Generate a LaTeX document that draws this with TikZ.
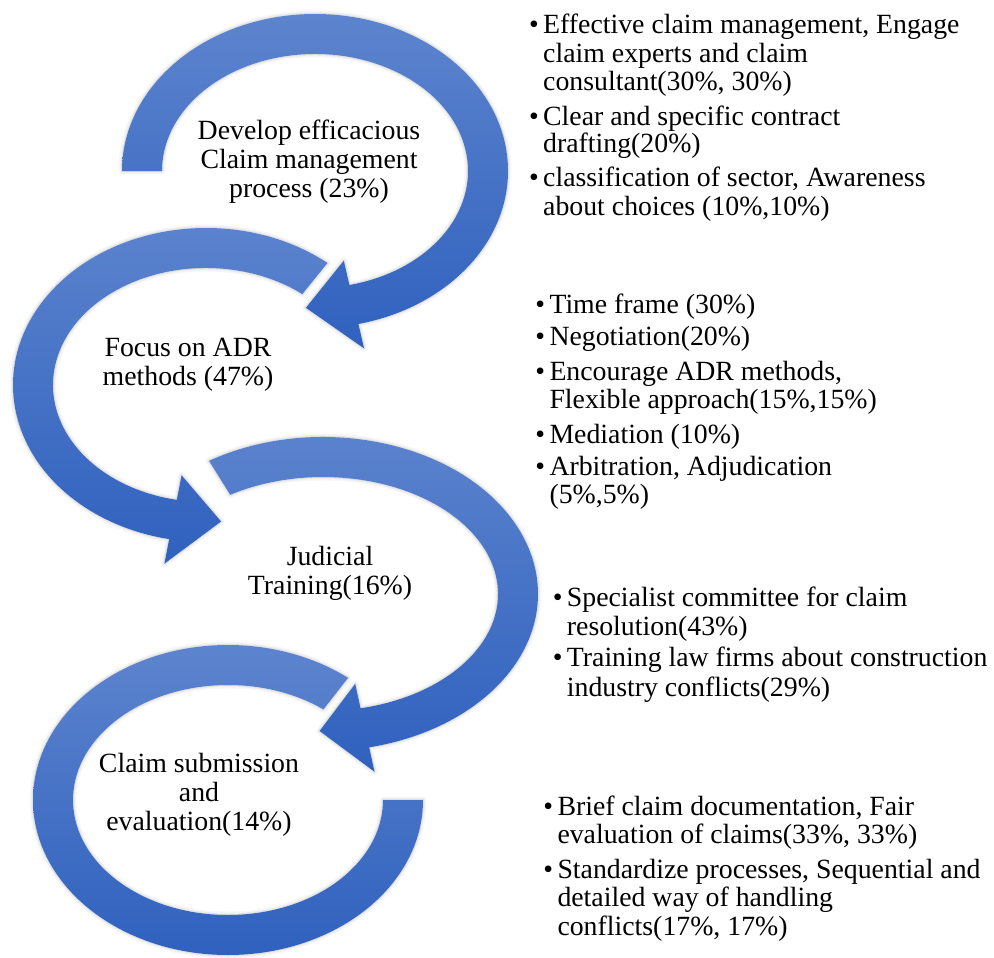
\documentclass[tikz,border=0pt]{standalone}
\usepackage{fontspec}
\setmainfont{Liberation Serif}
\definecolor{armtop}{HTML}{5D84CE}
\definecolor{armbot}{HTML}{2F61BE}
\newcommand\lbfont{\fontsize{27.8}{28.5}\selectfont}
% band width of every curved arrow and overhang of the arrow-head wings
\newcommand\bandw{40}
\newcommand\wingw{25}
% curved arrow on an ellipse: centre (#1,#2), outer radii #3,#4,
% tail at angle #5, head base at #6, head tip at #7 (angles grow clockwise)
\newcommand\headarrow[7]{%
  \path[armbody]
    ({#1+#3*cos(#5)},{#2+#4*sin(#5)})
    arc[start angle=#5, end angle=#6, x radius=#3, y radius=#4]
    -- ({#1+(#3+\wingw)*cos(#6)},{#2+(#4+\wingw)*sin(#6)})
    -- ({#1+(#3-\bandw/2)*cos(#7)},{#2+(#4-\bandw/2)*sin(#7)})
    -- ({#1+(#3-\bandw-\wingw)*cos(#6)},{#2+(#4-\bandw-\wingw)*sin(#6)})
    -- ({#1+(#3-\bandw)*cos(#6)},{#2+(#4-\bandw)*sin(#6)})
    arc[start angle=#6, end angle=#5, x radius=#3-\bandw, y radius=#4-\bandw]
    -- cycle;}
% open ring band without a head, from angle #5 to #6
\newcommand\ringband[6]{%
  \path[armbody]
    ({#1+#3*cos(#5)},{#2+#4*sin(#5)})
    arc[start angle=#5, end angle=#6, x radius=#3, y radius=#4]
    -- ({#1+(#3-\bandw)*cos(#6)},{#2+(#4-\bandw)*sin(#6)})
    arc[start angle=#6, end angle=#5, x radius=#3-\bandw, y radius=#4-\bandw]
    -- cycle;}
\tikzset{
  armbody/.style={
    preaction={draw=black, line width=7pt, opacity=0.03, line join=round},
    preaction={draw=black, line width=4pt, opacity=0.04, line join=round},
    preaction={draw=black, line width=2pt, opacity=0.05, line join=round},
    top color=armtop, bottom color=armbot},
  txt/.style={font=\lbfont, inner sep=0pt, text=black},
  lineL/.style={txt, anchor=base west},
  lineC/.style={txt, anchor=base},
  bul/.style={txt, anchor=base east}
}
\begin{document}
\begin{tikzpicture}[x=1pt, y=-1pt]
\useasboundingbox (0,0) rectangle (994,958);

% the four curved arrows
\headarrow{315}{171}{193}{157}{180}{437}{453}
\headarrow{206}{385}{193}{157}{-51}{-259}{-275}
\headarrow{323}{594}{215}{157}{-122}{77.6}{91}
\ringband{228}{800}{195}{155}{0}{308}

% labels inside the arrows
\node[lineC] (s1a) at (309,139.3) {Develop efficacious};
\node[lineC] (s1b) at (309,168.3) {Claim management};
\node[lineC] (s1c) at (309,197.3) {process (23\%)};

\node[lineC] (s2a) at (188,356.7) {Focus on ADR};
\node[lineC] (s2b) at (188,385.7) {methods (47\%)};

\node[lineC] (s3a) at (330,565) {Judicial};
\node[lineC] (s3b) at (330,594) {Training(16\%)};

\node[lineC] (s4a) at (199,772.7) {Claim submission};
\node[lineC] (s4b) at (199,801) {and};
\node[lineC] (s4c) at (199,830) {evaluation(14\%)};

% first list
\node[bul]   (p1u1) at (539,33.3) {•};
\node[lineL] (p1a) at (543,33.3) {Effective claim management, Engage};
\node[lineL] (p1b) at (543,62.3) {claim experts and claim};
\node[lineL] (p1c) at (543,90.7) {consultant(30\%, 30\%)};
\node[bul]   (p1u2) at (539,125) {•};
\node[lineL] (p1d) at (543,125) {Clear and specific contract};
\node[lineL] (p1e) at (543,152.7) {drafting(20\%)};
\node[bul]   (p1u3) at (539,186.7) {•};
\node[lineL] (p1f) at (543,186.7) {classification of sector, Awareness};
\node[lineL] (p1g) at (543,215) {about choices (10\%,10\%)};

% second list
\node[bul]   (p2u1) at (545.3,313.3) {•};
\node[lineL] (p2a) at (549.3,313.3) {Time frame (30\%)};
\node[bul]   (p2u2) at (545.3,345.7) {•};
\node[lineL] (p2b) at (549.3,345.7) {Negotiation(20\%)};
\node[bul]   (p2u3) at (545.3,380) {•};
\node[lineL] (p2c) at (549.3,380) {Encourage ADR methods,};
\node[lineL] (p2d) at (549.3,408.3) {Flexible approach(15\%,15\%)};
\node[bul]   (p2u4) at (545.3,443.3) {•};
\node[lineL] (p2e) at (549.3,443.3) {Mediation (10\%)};
\node[bul]   (p2u5) at (545.3,475) {•};
\node[lineL] (p2f) at (549.3,475) {Arbitration, Adjudication};
\node[lineL] (p2g) at (549.3,503.3) {(5\%,5\%)};

% third list
\node[bul]   (p3u1) at (562.7,606.7) {•};
\node[lineL] (p3a) at (566.7,606.7) {Specialist committee for claim};
\node[lineL] (p3b) at (566.7,635) {resolution(43\%)};
\node[bul]   (p3u2) at (562.7,666.7) {•};
\node[lineL] (p3c) at (566.7,666.7) {Training law firms about construction};
\node[lineL] (p3d) at (566.7,696) {industry conflicts(29\%)};

% fourth list
\node[bul]   (p4u1) at (553.3,815) {•};
\node[lineL] (p4a) at (557.3,815) {Brief claim documentation, Fair};
\node[lineL] (p4b) at (557.3,843.3) {evaluation of claims(33\%, 33\%)};
\node[bul]   (p4u2) at (553.3,878.3) {•};
\node[lineL] (p4c) at (557.3,878.3) {Standardize processes, Sequential and};
\node[lineL] (p4d) at (557.3,906.7) {detailed way of handling};
\node[lineL] (p4e) at (557.3,935) {conflicts(17\%, 17\%)};
\end{tikzpicture}
\end{document}
